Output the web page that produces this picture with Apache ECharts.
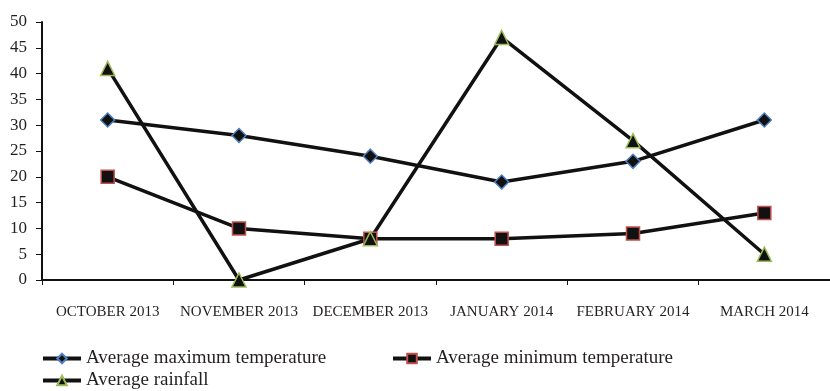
<!DOCTYPE html>
<html><head><meta charset="utf-8">
<script src="https://cdn.jsdelivr.net/npm/echarts@6/dist/echarts.min.js"></script>
<style>html,body{margin:0;padding:0;background:#fff}#c{width:830px;height:391px}</style>
</head><body><div id="c"></div>
<script>
const categories = ["OCTOBER 2013","NOVEMBER 2013","DECEMBER 2013","JANUARY 2014","FEBRUARY 2014","MARCH 2014"];
const maxTemp = [31, 28, 24, 19, 23, 31];
const minTemp = [20, 10, 8, 8, 9, 13];
const rainfall = [41, 0, 8, 47, 27, 5];
const yTicks = {min: 0, max: 50, interval: 5};

const font = "'Liberation Serif','DejaVu Serif',serif";
const chart = echarts.init(document.getElementById('c'));
const mk = (name, data, symbol, size, border) => ({
  name, type: 'line', data, symbol, symbolSize: size,
  lineStyle: {color: '#111', width: 3.5},
  itemStyle: {color: '#111', borderColor: border, borderWidth: 1.5},
  emphasis: {disabled: true}, z: 3
});
const legendBase = {
  orient: 'horizontal', itemWidth: 38, itemHeight: 12, itemGap: 4, padding: 0,
  lineStyle: {width: 4, color: '#111'},
  textStyle: {fontFamily: font, fontSize: 19, color: '#231f20'}
};
chart.setOption({
  animation: false,
  grid: {left: 42, top: 22, width: 795, height: 258},
  xAxis: {
    type: 'category', data: categories, boundaryGap: true,
    axisLine: {lineStyle: {color: '#111', width: 2}},
    axisTick: {show: true, alignWithLabel: false, length: 5, lineStyle: {color: '#111', width: 1}},
    axisLabel: {fontFamily: font, fontSize: 15, color: '#231f20', margin: 25, interval: 0, letterSpacing: -0.9}
  },
  yAxis: {
    type: 'value', min: yTicks.min, max: yTicks.max, interval: yTicks.interval,
    splitLine: {show: false},
    axisLine: {show: true, lineStyle: {color: '#111', width: 2}},
    axisTick: {show: true, length: 6, lineStyle: {color: '#111', width: 1}},
    axisLabel: {fontFamily: font, fontSize: 17, color: '#231f20', margin: 15}
  },
  legend: [
    Object.assign({}, legendBase, {data: ['Average maximum temperature'], left: 41, top: 349}),
    Object.assign({}, legendBase, {data: ['Average minimum temperature'], left: 391, top: 349}),
    Object.assign({}, legendBase, {data: ['Average rainfall'], left: 41, top: 371})
  ],
  series: [
    mk('Average maximum temperature', maxTemp, 'diamond', 14, '#4f81bd'),
    mk('Average minimum temperature', minTemp, 'rect', 13, '#c0504d'),
    mk('Average rainfall', rainfall, 'triangle', 14, '#9bbb59')
  ]
});
</script></body></html>
